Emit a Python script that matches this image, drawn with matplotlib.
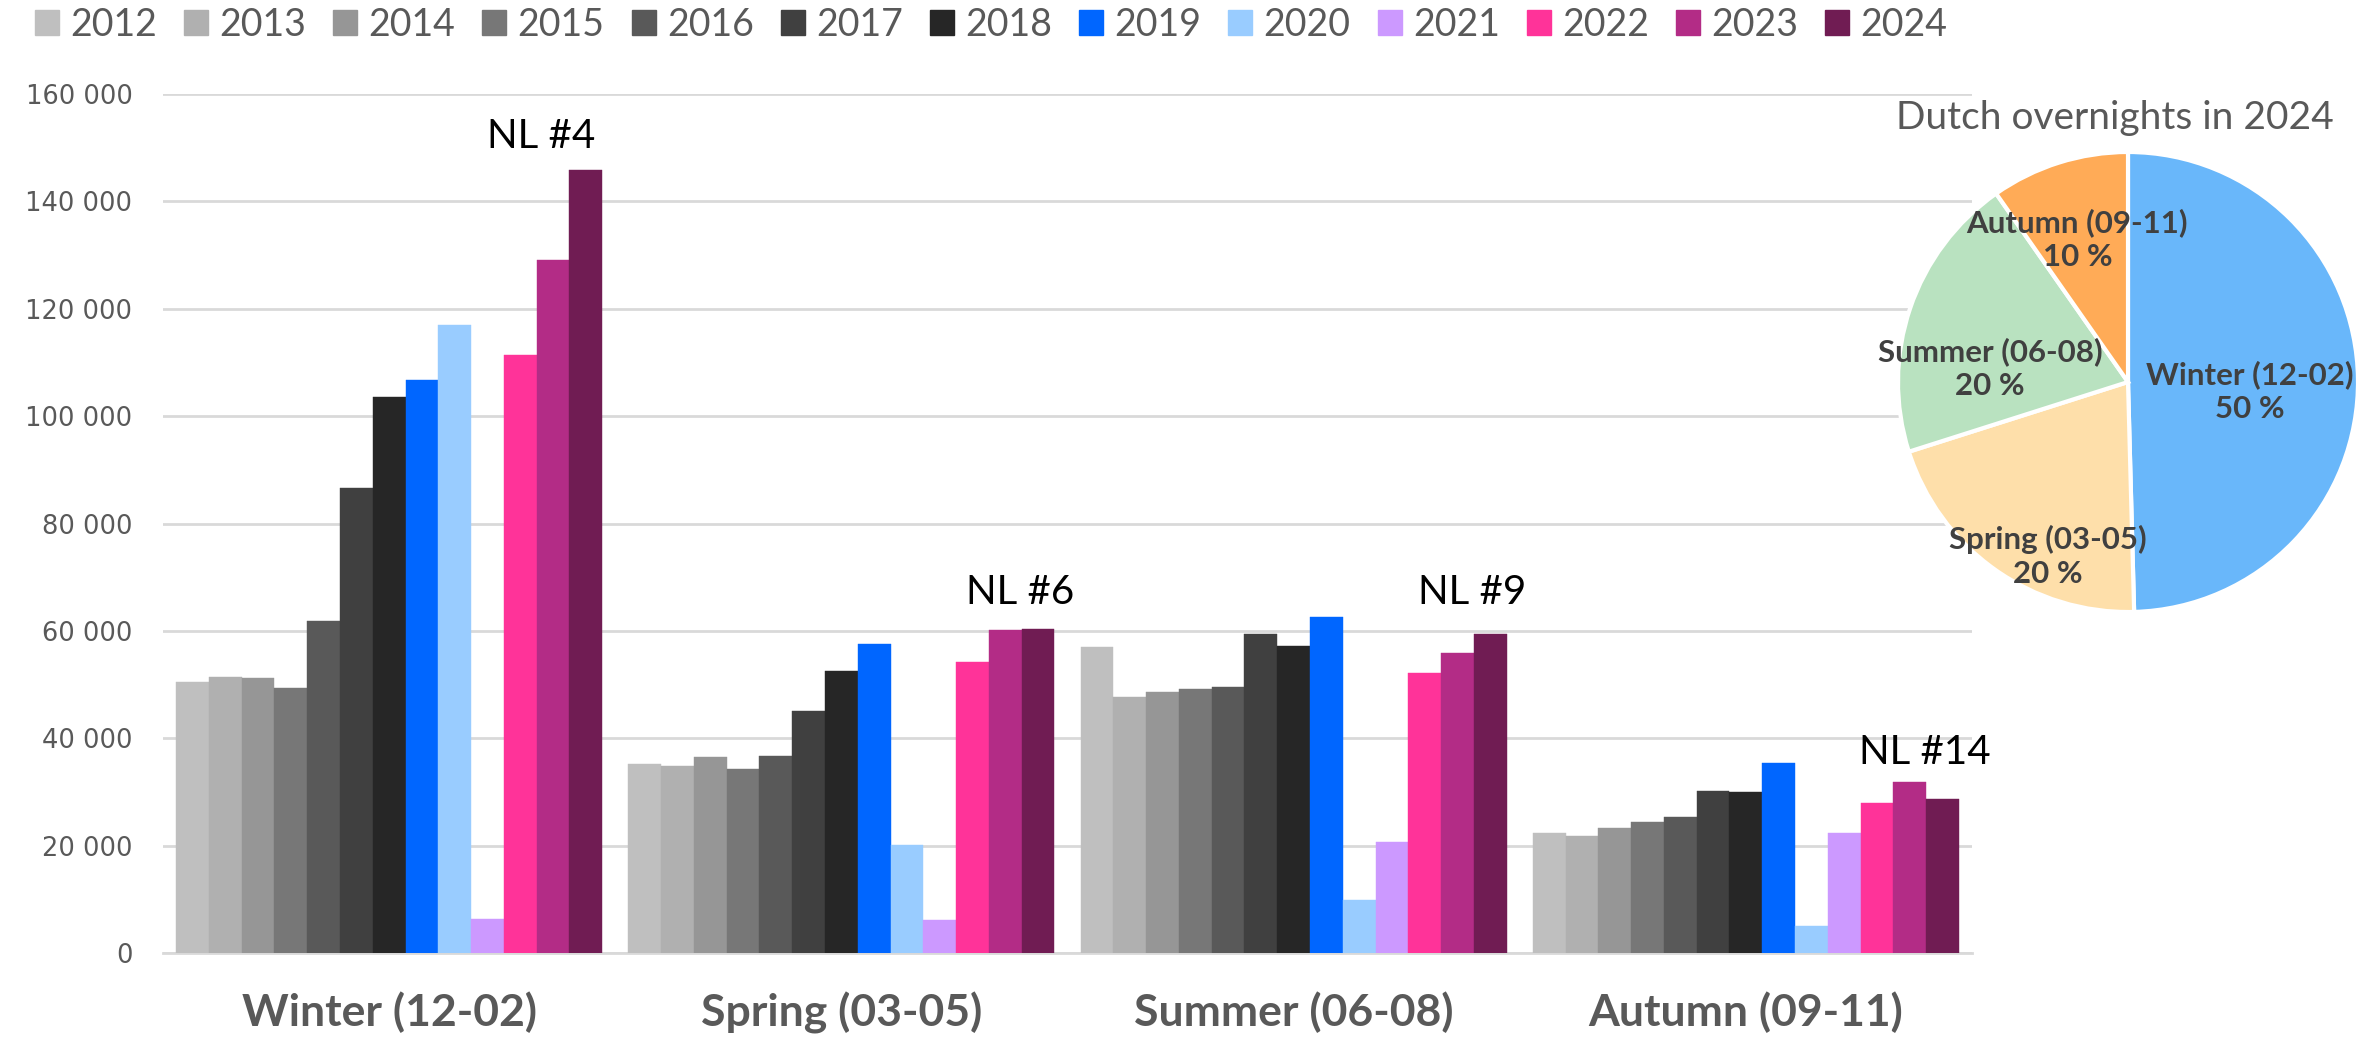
import matplotlib
matplotlib.use("Agg")
import matplotlib.pyplot as plt
from matplotlib.patches import Patch
import numpy as np

seasons = ["Winter (12-02)", "Spring (03-05)", "Summer (06-08)", "Autumn (09-11)"]
years = ["2012", "2013", "2014", "2015", "2016", "2017", "2018",
         "2019", "2020", "2021", "2022", "2023", "2024"]

winter = [50500, 51400, 51300, 49300, 61800, 86700, 103500, 106800, 116900, 6300, 111300, 129100, 145900]
spring = [35200, 34900, 36500, 34300, 36700, 45000, 52600, 57500, 20200, 6100, 54200, 60200, 60400]
summer = [57000, 47600, 48700, 49100, 49600, 59400, 57200, 62500, 9800, 20600, 52200, 55900, 59400]
autumn = [22300, 21700, 23300, 24400, 25300, 30200, 29900, 35400, 5000, 22400, 28000, 31800, 28600]

year_colors = ["#BFBFBF", "#B0B0B0", "#969696", "#777777", "#595959", "#404040", "#262626",
               "#0066FF", "#99CCFF", "#CC99FF", "#FF3399", "#B32C86", "#701C53"]

rank_labels = ["NL #4", "NL #6", "NL #9", "NL #14"]
rank_y = [152000, 67200, 67200, 37400]

pie_labels = ["Winter (12-02)", "Spring (03-05)", "Summer (06-08)", "Autumn (09-11)"]
pie_pct = ["50 %", "20 %", "20 %", "10 %"]
pie_colors = ["#69B7FA", "#FEDFAA", "#B9E2C0", "#FFAB57"]

W, H = 2369, 1040
fig = plt.figure(figsize=(W / 100, H / 100), dpi=100)

ax = fig.add_axes([163 / W, 87 / H, (1972 - 163) / W, (953 - 94) / H])
data = np.array([winter, spring, summer, autumn])  # seasons x years
x = np.arange(len(seasons))
n = len(years)
bw = 0.0725
for i in range(n):
    ax.bar(x - bw * n / 2 + bw * (i + 0.5), data[:, i], width=bw, color=year_colors[i],
           edgecolor=year_colors[i], linewidth=0.3, zorder=3)

ax.set_xlim(-0.5, 3.5)
ax.set_ylim(0, 160000)
ax.set_yticks(np.arange(0, 160001, 20000))
ax.set_yticklabels([f"{v:,}".replace(",", " ") for v in range(0, 160001, 20000)],
                   fontsize=18.5, color="#595959", family="DejaVu Sans")
ax.grid(axis="y", color="#D9D9D9", linewidth=2, zorder=0)
ax.set_xticks(x)
ax.set_xticklabels(seasons, fontsize=32, fontweight="bold", color="#595959", family="Lato")
ax.tick_params(axis="y", length=0, pad=22)
ax.tick_params(axis="x", length=0, pad=28)
for s in ["top", "right", "left"]:
    ax.spines[s].set_visible(False)
ax.spines["bottom"].set_color("#D9D9D9")
ax.spines["bottom"].set_linewidth(2)

rank_dx = [-0.10, -0.04, -0.04, -0.04]
for i, (lab, yv) in enumerate(zip(rank_labels, rank_y)):
    xpos = x[i] + bw * n / 2 - bw / 2 + rank_dx[i]
    ax.text(xpos, yv, lab, ha="center", va="center", fontsize=29, color="black", family="Lato", zorder=5)

handles = [Patch(facecolor=c, edgecolor=c) for c in year_colors]
fig.legend(handles, years, ncol=13, loc="center left", bbox_to_anchor=(35 / W, 1 - 25 / H),
           frameon=False, labelcolor="#595959", handlelength=0.64, handleheight=0.64,
           handletextpad=0.3, columnspacing=0.72, borderpad=0, borderaxespad=0,
           prop={"family": "Lato", "size": 27})

# pie
R = 230
cx, cy = 2128, 1040 - 382
pax = fig.add_axes([(cx - R) / W, (cy - R) / H, 2 * R / W, 2 * R / H])
vals = [winter[-1], spring[-1], summer[-1], autumn[-1]]
pax.pie(vals, colors=pie_colors, startangle=90, counterclock=False,
        wedgeprops=dict(edgecolor="white", linewidth=3))
pax.set_xlim(-1, 1)
pax.set_ylim(-1, 1)
pax.set_aspect("equal")
pax.axis("off")
label_pos = [(0.53, -0.04), (-0.35, -0.76), (-0.60, 0.06), (-0.22, 0.62)]
for (lx, ly), lab, pct in zip(label_pos, pie_labels, pie_pct):
    pax.text(lx, ly, f"{lab}\n{pct}", ha="center", va="center", fontsize=22.5,
             fontweight="bold", color="#404040", family="Lato", linespacing=1.25)
fig.text(2115 / W, 1 - 118 / H, "Dutch overnights in 2024", ha="center", va="center",
         fontsize=28, color="#595959", family="Lato")

fig.savefig("out.png", dpi=100)
